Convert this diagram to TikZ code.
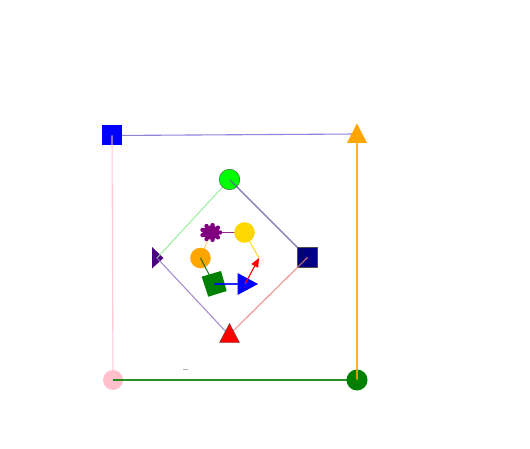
\documentclass[tikz,border=0pt]{standalone}
\usetikzlibrary{arrows.meta,calc}
\definecolor{cblue}{HTML}{0000FF}
\definecolor{corange}{HTML}{FFA500}
\definecolor{cpink}{HTML}{FFC0CB}
\definecolor{cgreen}{HTML}{008000}
\definecolor{clime}{HTML}{00FF00}
\definecolor{cnavy}{HTML}{000080}
\definecolor{cred}{HTML}{FF0000}
\definecolor{cindigo}{HTML}{4B0082}
\definecolor{cpurple}{HTML}{800080}
\definecolor{cgold}{HTML}{FFD700}
\definecolor{eslate}{HTML}{7A70D8}
\definecolor{elgreen}{HTML}{90EE90}
\definecolor{enavy}{HTML}{6060A8}
\definecolor{esalmon}{HTML}{F08080}
\definecolor{emedpurple}{HTML}{9A7AC8}
\definecolor{elorange}{HTML}{FFC870}
\begin{document}
\begin{tikzpicture}[x=1pt,y=-1pt,
  edge/.style={line width=1.1pt,draw opacity=0.85},
  rim/.style={draw=black!70,line width=0.4pt}]
\useasboundingbox[fill=white] (0,0) rectangle (530,449);
% centers
\coordinate (bsq) at (112,135.5);
\coordinate (otri) at (357,134);
\coordinate (pcirc) at (113,380);
\coordinate (gcirc) at (357,380);
\coordinate (lcirc) at (229.5,179.5);
\coordinate (nsq) at (307.5,257.5);
\coordinate (rtri) at (229,335);
\coordinate (itri) at (157,258);
\coordinate (splat) at (211,232.5);
\coordinate (gold) at (244.5,232.5);
\coordinate (ocirc) at (200.5,258);
\coordinate (arr) at (259,258);
\coordinate (gsq) at (214,284);
\coordinate (btri) at (245,284);
% outer square
\draw[edge,eslate] (bsq) -- (otri);
\fill[cblue] ($(bsq)+(-10,-10)$) rectangle ($(bsq)+(10,10)$);
\fill[corange] (347,143) -- (357,123.5) -- (367,143) -- cycle;
\fill[cpink] (pcirc) circle (10);
\fill[cgreen] (gcirc) circle (10.5);
\draw[edge,cpink] (bsq) -- (pcirc);
\draw[edge,corange] (otri) -- (gcirc);
\draw[edge,cgreen] (pcirc) -- (gcirc);
% inner diamond
\fill[cindigo] (152,247) -- (163.5,258) -- (152,268.5) -- cycle;
\draw[edge,elgreen] (lcirc) -- (itri);
\filldraw[clime,rim] (lcirc) circle (10.3);
\draw[edge,enavy] (lcirc) -- (nsq);
\filldraw[cnavy,rim] ($(nsq)+(-10,-10)$) rectangle ($(nsq)+(10,10)$);
\draw[edge,esalmon] (nsq) -- (rtri);
\draw[edge,emedpurple] (itri) -- (rtri);
\filldraw[cred,rim] (219.5,342.5) -- (229.5,323.5) -- (239.5,342.5) -- cycle;
% inner hexagon
\draw[edge,elorange] (ocirc) -- (splat);
\fill[cpurple] (splat) ellipse (8.5 and 7);
\foreach \a in {0,40,...,320} \fill[cpurple] ($(splat)+(\a:9 and 7.5)$) circle (2.2);
\draw[edge,cpurple] (splat) -- (gold);
\fill[cgold] (gold) circle (10.3);
\draw[edge,cgold] (gold) -- (arr);
\fill[corange] (ocirc) circle (10.3);
\draw[edge,cgreen!80!black] (ocirc) -- (gsq);
\fill[cgreen] (201.7,276.7) -- (221,271) -- (226.7,291) -- (208.3,296.7) -- cycle;
\draw[edge,cblue] (gsq) -- (btri);
\fill[cblue] (237.5,273) -- (258,284) -- (237.5,295) -- cycle;
\draw[edge,cred,draw opacity=1,-{Triangle[length=9pt,width=7.5pt]}] (btri) -- (arr);
% tiny mark
\draw[gray!60,line width=0.6pt] (183,369.5) -- (188,369.5);
\end{tikzpicture}
\end{document}
